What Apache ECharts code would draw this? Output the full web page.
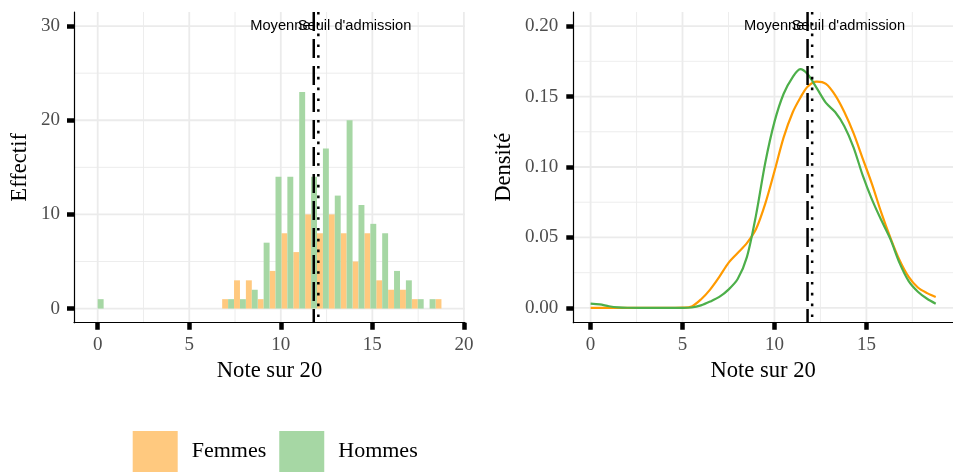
<!DOCTYPE html>
<html><head><meta charset="utf-8">
<script src="https://cdn.jsdelivr.net/npm/echarts@6/dist/echarts.min.js"></script>
<style>html,body{margin:0;padding:0;background:#fff}#c{width:953px;height:472px}</style>
</head><body><div id="c"></div>
<script>
// ---- data ----
const binCenters = [0, 0.647, 1.295, 1.942, 2.590, 3.237, 3.884, 4.532, 5.179, 5.827,
  6.474, 7.121, 7.769, 8.416, 9.063, 9.711, 10.358, 11.006, 11.653, 12.300,
  12.948, 13.595, 14.243, 14.890, 15.537, 16.185, 16.832, 17.480, 18.127, 18.774];
const binWidth = 0.647;
const femmesCounts = [0,0,0,0,0,0,0,0,0,0, 0,1,3,3,1,4,8,6,10,8, 10,8,5,8,3,2,2,1,0,1];
const hommesCounts = [1,0,0,0,0,0,0,0,0,0, 0,1,1,2,7,14,14,23,14,17, 12,20,11,9,8,4,3,1,1,0];

const densX = [0, 0.5, 1, 1.5, 2, 3, 4, 5, 5.5, 6, 6.5, 7, 7.5, 8, 8.5, 9, 9.5, 10,
  10.5, 11, 11.4, 11.8, 12.3, 12.8, 13.3, 13.8, 14.3, 14.8, 15.3, 15.8, 16.3, 16.8, 17.3, 17.8, 18.3, 18.77];
const femmesDens = [0, 0, 0, 0, 0, 0, 0, 0.0002, 0.001, 0.006, 0.013, 0.022, 0.032, 0.039, 0.046, 0.056, 0.074, 0.097,
  0.121, 0.139, 0.149, 0.157, 0.1606, 0.159, 0.151, 0.139, 0.124, 0.106, 0.088, 0.068, 0.050, 0.034, 0.022, 0.0145, 0.0105, 0.0078];
const hommesDens = [0.0031, 0.0025, 0.0012, 0.0004, 0.0001, 0, 0, 0, 0.0003, 0.0018, 0.0045, 0.0078, 0.013, 0.0205, 0.036, 0.066, 0.103, 0.132,
  0.152, 0.164, 0.1695, 0.166, 0.156, 0.1455, 0.139, 0.129, 0.114, 0.094, 0.077, 0.0625, 0.049, 0.032, 0.019, 0.0115, 0.0065, 0.003];

const moyenne = 11.8;
const seuil = 12.05;
const refLabels = ['Moyenne', "Seuil d'admission"];
const labelYHist = 30;
const labelYDens = 0.2;

const histXTicks = [0, 5, 10, 15, 20];
const histXMinor = [2.5, 7.5, 12.5, 17.5];
const histYTicks = [0, 10, 20, 30];
const histYMinor = [5, 15, 25];
const densXTicks = [0, 5, 10, 15];
const densXMinor = [2.5, 7.5, 12.5, 17.5];
const densYTicks = [0, 0.05, 0.10, 0.15, 0.20];
const densYMinor = [0.025, 0.075, 0.125, 0.175];

// ---- styles ----
const cFemBar = '#ffc97f', cHomBar = '#a6d7a4';
const cFemLine = '#ff9a00', cHomLine = '#4daf4a';
const serif = '"Liberation Serif", "Times New Roman", serif';
const sans = '"Liberation Sans", Arial, sans-serif';

function barRender(side) {
  return function (params, api) {
    const c = api.value(0), n = api.value(1);
    if (!n) return null;
    const x0 = side < 0 ? c - binWidth / 2 : c;
    const x1 = side < 0 ? c : c + binWidth / 2;
    const p0 = api.coord([x0, 0]);
    const p1 = api.coord([x1, n]);
    return { type: 'rect', shape: { x: p0[0], y: p1[1], width: p1[0] - p0[0], height: p0[1] - p1[1] },
      style: { fill: side < 0 ? cFemBar : cHomBar } };
  };
}
function vGrid(params, api) {
  const x = api.coord([api.value(0), 0])[0];
  const cs = params.coordSys;
  return { type: 'line', shape: { x1: x, y1: cs.y, x2: x, y2: cs.y + cs.height },
    style: { stroke: '#ebebeb', lineWidth: api.value(1) ? 1.8 : 0.9 } };
}
function hGrid(params, api) {
  const y = api.coord([0, api.value(0)])[1];
  const cs = params.coordSys;
  return { type: 'line', shape: { x1: cs.x, y1: y, x2: cs.x + cs.width, y2: y },
    style: { stroke: '#ebebeb', lineWidth: api.value(1) ? 1.8 : 0.9 } };
}
function refRender(params, api) {
  const v = api.value(0), ly = api.value(1), kind = api.value(2);
  const cs = params.coordSys;
  const p = api.coord([v, ly]);
  return { type: 'group', children: [
    { type: 'line', shape: { x1: p[0], y1: cs.y, x2: p[0], y2: cs.y + cs.height },
      style: { stroke: '#000', lineWidth: 2.5, lineDash: kind === 0 ? [19, 8] : [2.6, 8.2], lineCap: 'butt' } },
    { type: 'text', x: p[0] + (kind === 0 ? -63.5 : -20.6), y: p[1],
      style: { text: refLabels[kind], fill: '#000', font: '14.67px ' + sans, align: 'left', verticalAlign: 'middle' } }
  ] };
}
function gridData(maj, min) {
  return maj.map(v => [v, 1]).concat(min.map(v => [v, 0]));
}

function xAxisCfg(gi, mn, mx, ticks) {
  return { type: 'value', gridIndex: gi, min: mn, max: mx,
    name: 'Note sur 20', nameLocation: 'middle', nameGap: 36,
    nameTextStyle: { fontFamily: serif, fontSize: 22.6, color: '#000' },
    axisLine: { show: true, onZero: false, lineStyle: { color: '#000', width: 1.2 } },
    axisTick: { show: true, customValues: ticks, length: 7, lineStyle: { color: '#000', width: 4.5 } },
    axisLabel: { customValues: ticks, margin: 13, fontFamily: serif, fontSize: 19, color: '#4d4d4d' },
    splitLine: { show: false } };
}
function yAxisCfg(gi, mn, mx, ticks, name, gap, margin, fmt) {
  return { type: 'value', gridIndex: gi, min: mn, max: mx,
    name: name, nameLocation: 'middle', nameGap: gap,
    nameTextStyle: { fontFamily: serif, fontSize: 22.6, color: '#000' },
    axisLine: { show: true, onZero: false, lineStyle: { color: '#000', width: 1.2 } },
    axisTick: { show: true, customValues: ticks, length: 7, lineStyle: { color: '#000', width: 4.5 } },
    axisLabel: { customValues: ticks, margin: margin, fontFamily: serif, fontSize: 19, color: '#4d4d4d', formatter: fmt },
    splitLine: { show: false } };
}

const chart = echarts.init(document.getElementById('c'), null, { renderer: 'canvas' });
chart.setOption({
  animation: false,
  backgroundColor: '#fff',
  grid: [
    { left: 74, top: 12, width: 391, height: 310.7 },
    { left: 573.3, top: 12, width: 391.3, height: 310.7 }
  ],
  xAxis: [
    xAxisCfg(0, -1.295, 20.06, histXTicks),
    xAxisCfg(1, -0.94, 19.71, densXTicks)
  ],
  yAxis: [
    yAxisCfg(0, -1.5, 31.5, histYTicks, 'Effectif', 42, 14, v => String(v)),
    yAxisCfg(1, -0.0105, 0.21, densYTicks, 'Densité', 58, 15, v => v.toFixed(2))
  ],
  legend: {
    left: 132.7, top: 431, padding: 0, orient: 'horizontal', selectedMode: false,
    itemWidth: 45, itemHeight: 41, itemGap: 13,
    textStyle: { fontFamily: serif, fontSize: 22, color: '#000', padding: [4, 0, 0, 9] },
    data: [{ name: 'Femmes', icon: 'rect' }, { name: 'Hommes', icon: 'rect' }]
  },
  series: [
    { type: 'custom', name: 'gx0', xAxisIndex: 0, yAxisIndex: 0, z: 0, silent: true, renderItem: vGrid, data: gridData(histXTicks, histXMinor) },
    { type: 'custom', name: 'gy0', xAxisIndex: 0, yAxisIndex: 0, z: 0, silent: true, renderItem: hGrid, data: gridData(histYTicks, histYMinor) },
    { type: 'custom', name: 'gx1', xAxisIndex: 1, yAxisIndex: 1, z: 0, silent: true, renderItem: vGrid, data: gridData(densXTicks, densXMinor) },
    { type: 'custom', name: 'gy1', xAxisIndex: 1, yAxisIndex: 1, z: 0, silent: true, renderItem: hGrid, data: gridData(densYTicks, densYMinor) },
    { type: 'custom', name: 'Femmes', xAxisIndex: 0, yAxisIndex: 0, z: 2, itemStyle: { color: cFemBar },
      renderItem: barRender(-1), encode: { x: 0, y: 1 }, data: binCenters.map((c, i) => [c, femmesCounts[i]]) },
    { type: 'custom', name: 'Hommes', xAxisIndex: 0, yAxisIndex: 0, z: 2, itemStyle: { color: cHomBar },
      renderItem: barRender(1), encode: { x: 0, y: 1 }, data: binCenters.map((c, i) => [c, hommesCounts[i]]) },
    { type: 'line', name: 'Femmes densité', xAxisIndex: 1, yAxisIndex: 1, z: 3, showSymbol: false, smooth: 0.3,
      lineStyle: { color: cFemLine, width: 2.2 }, itemStyle: { color: cFemLine },
      data: densX.map((x, i) => [x, femmesDens[i]]) },
    { type: 'line', name: 'Hommes densité', xAxisIndex: 1, yAxisIndex: 1, z: 3, showSymbol: false, smooth: 0.3,
      lineStyle: { color: cHomLine, width: 2.2 }, itemStyle: { color: cHomLine },
      data: densX.map((x, i) => [x, hommesDens[i]]) },
    { type: 'custom', name: 'ref0', xAxisIndex: 0, yAxisIndex: 0, z: 5, silent: true, renderItem: refRender,
      data: [[moyenne, labelYHist, 0], [seuil, labelYHist, 1]] },
    { type: 'custom', name: 'ref1', xAxisIndex: 1, yAxisIndex: 1, z: 5, silent: true, renderItem: refRender,
      data: [[moyenne, labelYDens, 0], [seuil, labelYDens, 1]] }
  ]
});
</script>
</body></html>
